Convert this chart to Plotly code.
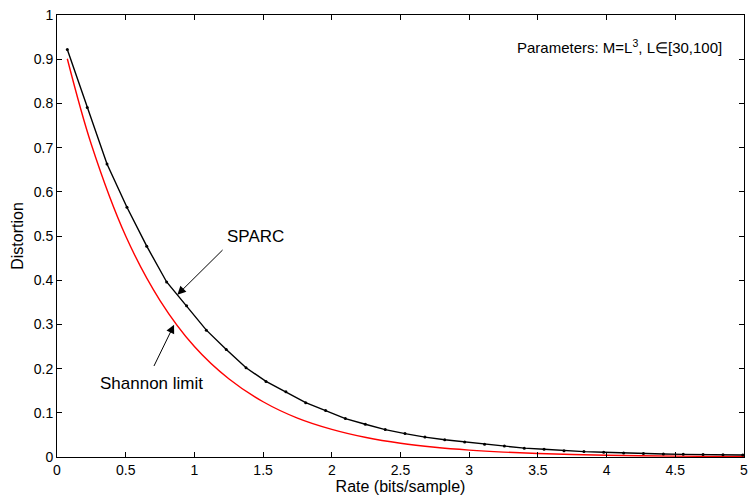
import plotly.graph_objects as go

# SPARC measured points (rate in bits/sample, distortion)
sparc_rate = [0.075, 0.220, 0.364, 0.509, 0.653, 0.798, 0.943, 1.087, 1.232, 1.376,
              1.521, 1.666, 1.810, 1.955, 2.099, 2.244, 2.389, 2.533, 2.678, 2.822,
              2.967, 3.112, 3.256, 3.401, 3.545, 3.690, 3.835, 3.979, 4.124, 4.268,
              4.413, 4.558, 4.702, 4.847, 4.991]
sparc_dist = [0.922, 0.791, 0.663, 0.565, 0.477, 0.396, 0.342, 0.287, 0.243, 0.202,
              0.171, 0.1475, 0.123, 0.105, 0.087, 0.074, 0.062, 0.053, 0.045, 0.039,
              0.034, 0.029, 0.025, 0.020, 0.0174, 0.0144, 0.0122, 0.0106, 0.009, 0.0077,
              0.0068, 0.006, 0.0054, 0.005, 0.0045]

# Shannon limit curve (read values)
shannon_rate = [0.075, 0.25, 0.5, 0.75, 1.0, 1.25, 1.5, 1.75, 2.0, 2.25, 2.5,
                2.75, 3.0, 3.25, 3.5, 3.75, 4.0, 4.25, 4.5, 4.75, 5.0]
shannon_dist = [0.901, 0.707, 0.5, 0.354, 0.25, 0.177, 0.125, 0.088, 0.0625, 0.044, 0.031,
                0.022, 0.0156, 0.011, 0.0078, 0.0055, 0.0039, 0.0028, 0.002, 0.0014, 0.001]

x_ticks = [0, 0.5, 1, 1.5, 2, 2.5, 3, 3.5, 4, 4.5, 5]
x_tick_text = ["0", "0.5", "1", "1.5", "2", "2.5", "3", "3.5", "4", "4.5", "5"]
y_ticks = [0, 0.1, 0.2, 0.3, 0.4, 0.5, 0.6, 0.7, 0.8, 0.9, 1]
y_tick_text = ["0", "0.1", "0.2", "0.3", "0.4", "0.5", "0.6", "0.7", "0.8", "0.9", "1"]

FONT = "Liberation Sans, Arial, Helvetica, sans-serif"

fig = go.Figure()
fig.add_trace(go.Scatter(x=shannon_rate, y=shannon_dist, mode="lines",
                         line=dict(color="#ff0000", width=1.4, shape="spline"),
                         showlegend=False, name="Shannon limit"))
fig.add_trace(go.Scatter(x=sparc_rate, y=sparc_dist, mode="lines+markers",
                         line=dict(color="black", width=1.4),
                         marker=dict(color="black", size=3),
                         showlegend=False, name="SPARC"))

axis_common = dict(showline=True, linecolor="black", linewidth=1, mirror="ticks",
                   ticks="inside", ticklen=5, tickcolor="black", tickwidth=1,
                   showgrid=False, zeroline=False,
                   tickfont=dict(family=FONT, size=14, color="black"))

fig.update_xaxes(range=[0, 5], tickvals=x_ticks, ticktext=x_tick_text,
                 title=dict(text="Rate (bits/sample)", standoff=0,
                            font=dict(family=FONT, size=16, color="black")),
                 **axis_common)
fig.update_yaxes(range=[0, 1], tickvals=y_ticks, ticktext=y_tick_text,
                 title=dict(text="Distortion", standoff=6,
                            font=dict(family=FONT, size=16, color="black")),
                 **axis_common)

# Arrows
fig.add_annotation(x=0.876, y=0.367, ax=1.227, ay=0.475, axref="x", ayref="y",
                   xref="x", yref="y", text=" ", showarrow=True,
                   arrowhead=2, arrowsize=1.7, arrowwidth=1, arrowcolor="black")
fig.add_annotation(x=0.852, y=0.299, ax=0.684, ay=0.192, axref="x", ayref="y",
                   xref="x", yref="y", text=" ", showarrow=True,
                   arrowhead=2, arrowsize=1.7, arrowwidth=1, arrowcolor="black")
# Labels
fig.add_annotation(x=1.444, y=0.500, xref="x", yref="y", text="SPARC", showarrow=False,
                   font=dict(family=FONT, size=17, color="black"))
fig.add_annotation(x=0.687, y=0.166, xref="x", yref="y", text="Shannon limit",
                   showarrow=False, font=dict(family=FONT, size=17, color="black"))
fig.add_annotation(x=0.971, y=0.928, xref="paper", yref="y", xanchor="right",
                   text="Parameters: M=L<sup>3</sup>, L\u2208[30,100]", showarrow=False,
                   font=dict(family=FONT, size=15, color="black"))

fig.update_layout(width=755, height=498, plot_bgcolor="white", paper_bgcolor="white",
                  margin=dict(l=57, r=7, t=13, b=41))

fig.write_html("out.html", config={"displayModeBar": False},
               post_script="document.body.style.margin='0';document.body.style.padding='0';"
                           "document.body.style.overflow='hidden';")
